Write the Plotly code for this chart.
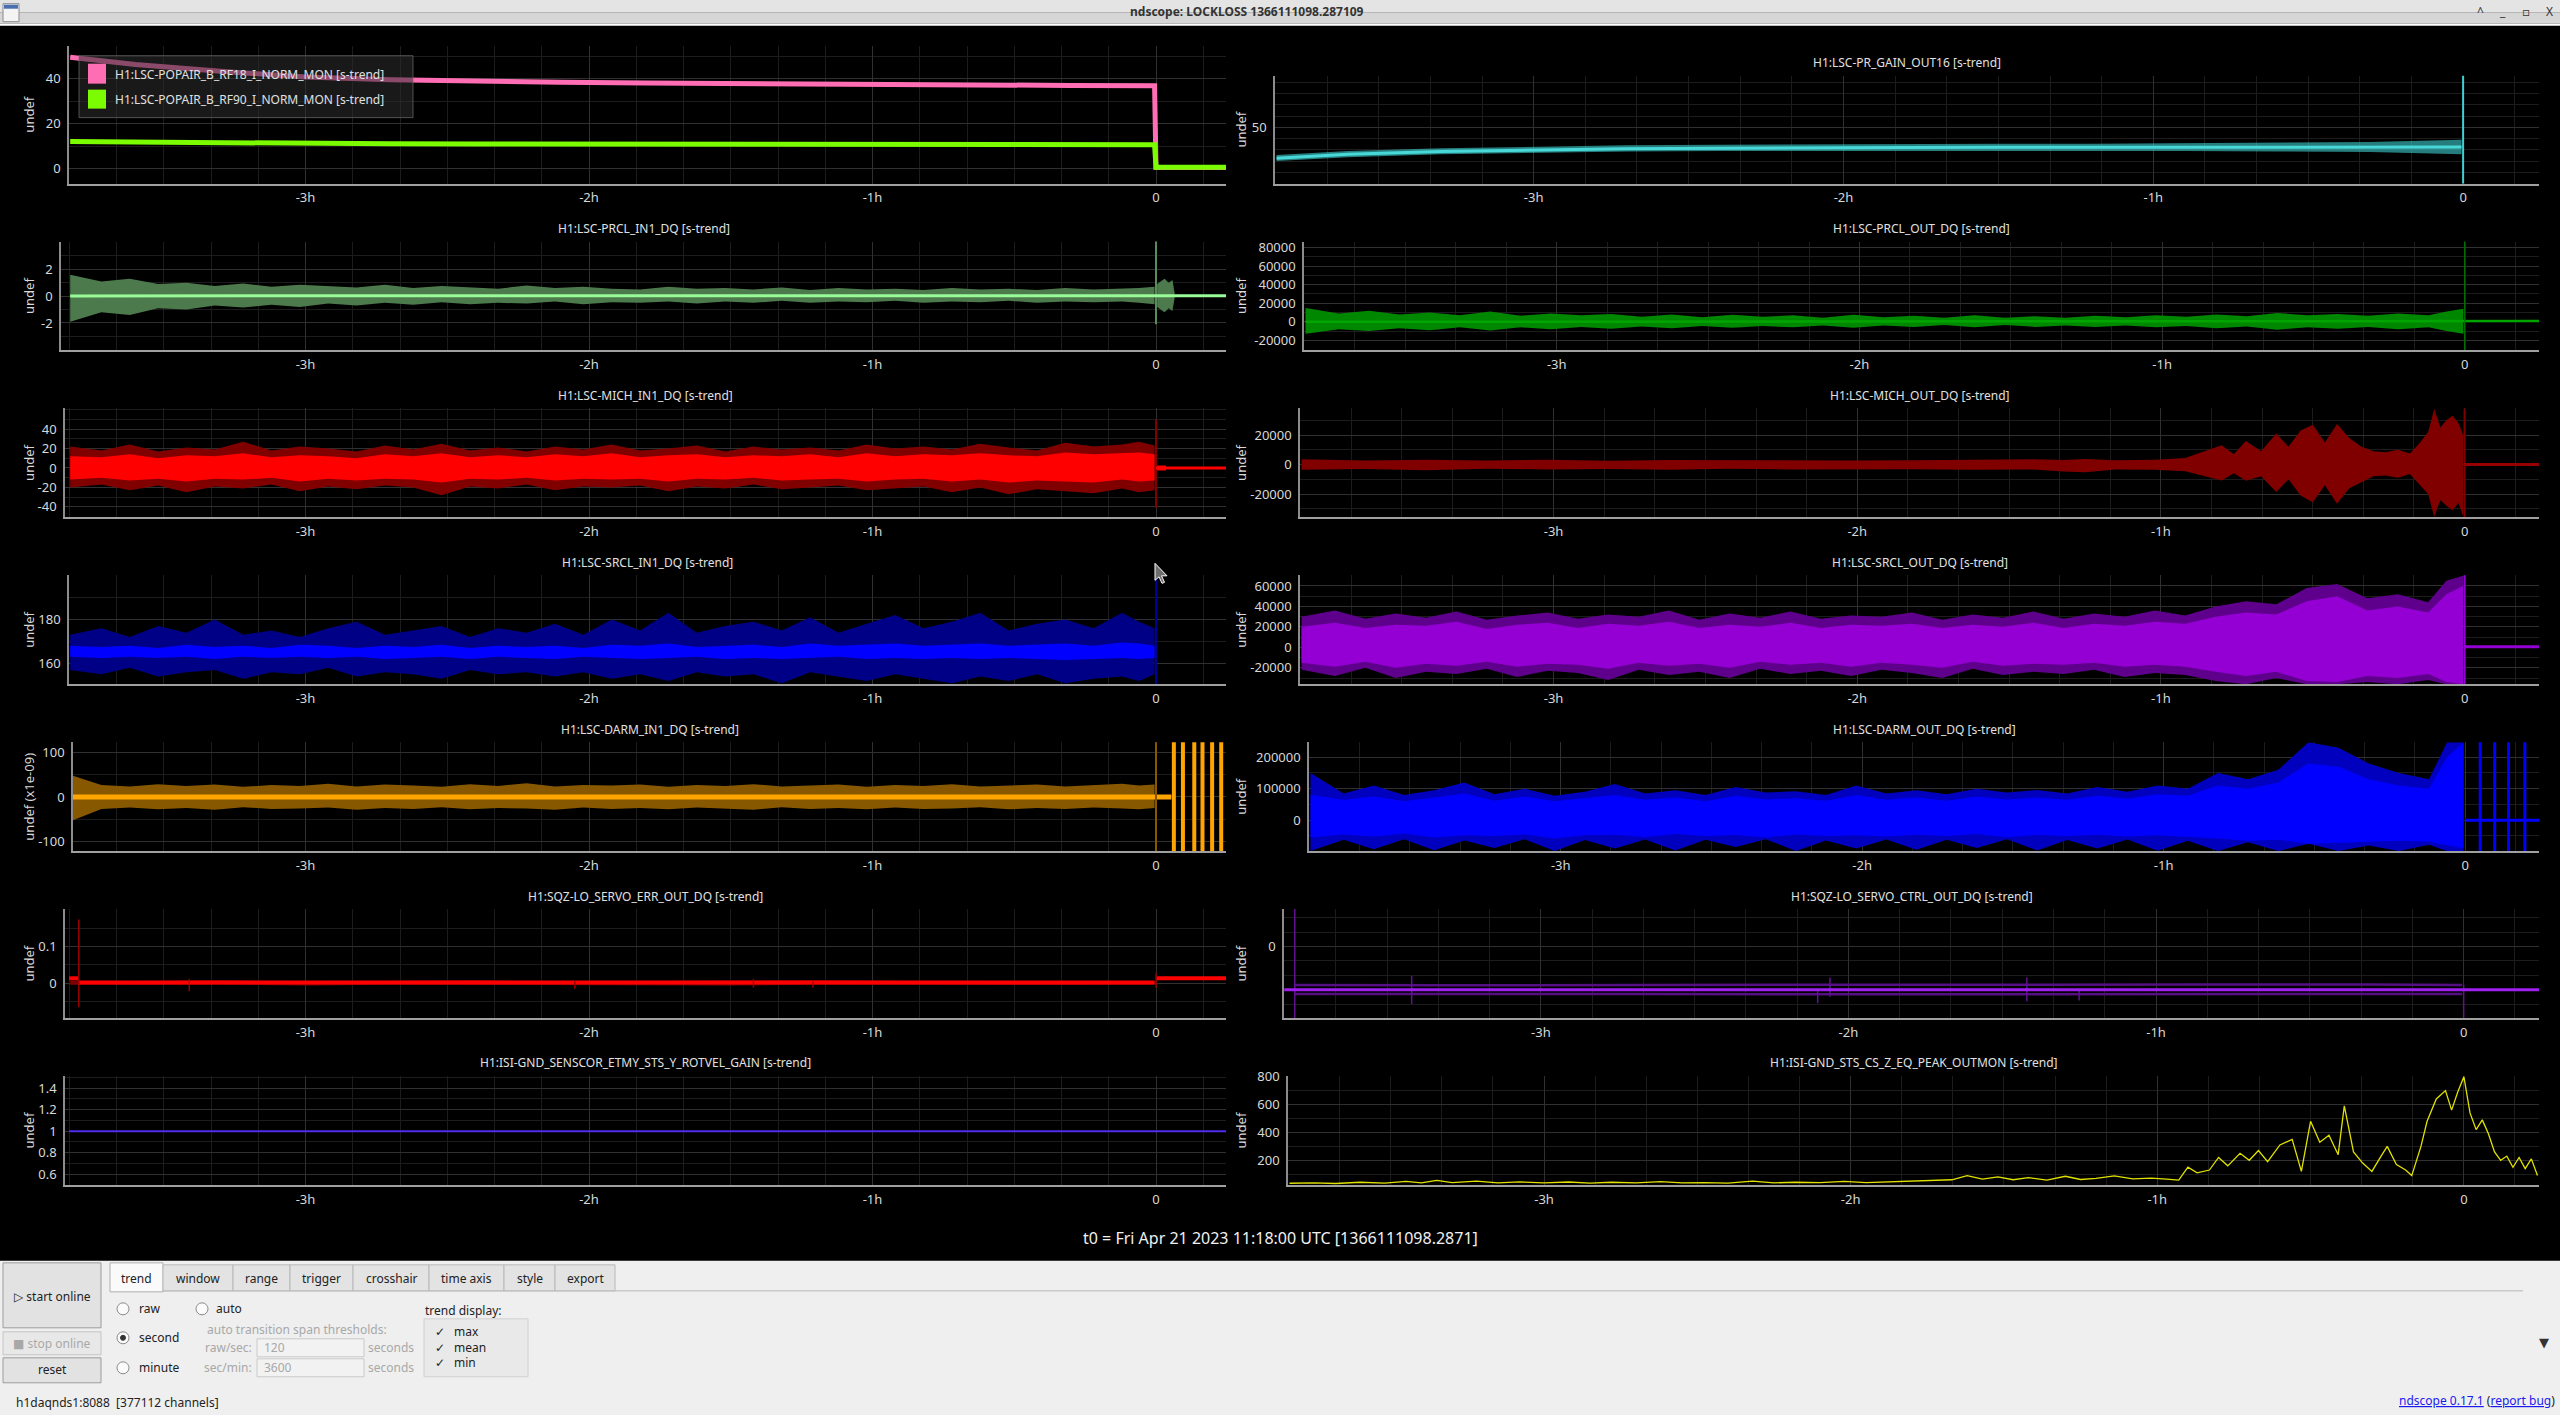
import plotly.graph_objects as go

W, H = 2560, 1415
FONT = "Noto Sans, Open Sans, DejaVu Sans, sans-serif"

# --- time grids, hours relative to t0 (the lockloss) ---
T = [-3.83, -3.72, -3.62, -3.52, -3.42, -3.32, -3.22, -3.12, -3.02, -2.92,
     -2.82, -2.72, -2.62, -2.52, -2.42, -2.32, -2.22, -2.12, -2.02, -1.92,
     -1.82, -1.72, -1.62, -1.52, -1.42, -1.32, -1.22, -1.12, -1.02, -0.92,
     -0.82, -0.72, -0.62, -0.52, -0.42, -0.32, -0.22, -0.12, -0.06, -0.005]
T_SLOW = [-3.83, -3.6, -3.3, -3.0, -2.7, -2.4, -2.1, -1.8, -1.5, -1.2, -0.9, -0.6, -0.3, -0.005]
POST_T = [0.0, 0.247]
HOUR_TICKS = [-3, -2, -1, 0]
HOUR_LABELS = ["-3h", "-2h", "-1h", "0"]

# --- H1:LSC-POPAIR_B_RF18 / RF90 ---
rf18 = [49.5, 46.3, 43.3, 40.8, 39.5, 38.8, 38.4, 38.1, 37.8, 37.6, 37.4, 37.2, 37.0, 36.9]
rf18_post = [0.5, 0.5]
rf90 = [12.0, 11.7, 11.4, 11.1, 11.0, 10.95, 10.9, 10.85, 10.8, 10.75, 10.7, 10.7, 10.65, 10.6]
rf90_post = [0.6, 0.6]

# --- H1:LSC-PR_GAIN_OUT16 ---
gain16_max = [45.1, 45.8, 46.3, 46.6, 46.8, 46.9, 47.0, 47.0, 47.1, 47.1, 47.2, 47.3, 47.4, 47.8]
gain16_min = [44.0, 44.7, 45.2, 45.5, 45.7, 45.8, 45.8, 45.9, 45.8, 45.8, 45.8, 45.7, 45.6, 45.2]
gain16_mean = [44.5, 45.2, 45.7, 46.0, 46.2, 46.3, 46.4, 46.4, 46.45, 46.45, 46.5, 46.5, 46.5, 46.5]

# --- H1:LSC-PRCL_IN1_DQ ---
prcl_in_max = [1.6, 1.1, 1.3, 0.9, 1.0, 0.75, 0.95, 0.7, 0.85, 0.75,
               0.65, 0.85, 0.6, 0.75, 0.65, 0.55, 0.8, 0.6, 0.7, 0.55,
               0.5, 0.7, 0.55, 0.6, 0.5, 0.65, 0.45, 0.6, 0.5, 0.55,
               0.45, 0.6, 0.5, 0.55, 0.45, 0.6, 0.5, 0.55, 0.6, 0.7]
prcl_in_min = [-1.9, -1.2, -1.4, -0.9, -1.0, -0.7, -0.85, -0.65, -0.8, -0.55,
               -0.7, -0.5, -0.65, -0.45, -0.6, -0.5, -0.55, -0.4, -0.6, -0.45,
               -0.5, -0.4, -0.55, -0.4, -0.5, -0.35, -0.5, -0.4, -0.45, -0.35,
               -0.5, -0.4, -0.45, -0.35, -0.5, -0.4, -0.45, -0.4, -0.5, -0.6]
prcl_in_burst_t = [0.004, 0.015, 0.03, 0.045, 0.058, 0.066]
prcl_in_burst_max = [0.9, 1.1, 1.3, 1.0, 1.2, 0.2]
prcl_in_burst_min = [-0.8, -1.0, -1.2, -0.9, -1.1, -0.1]
prcl_in_mean_t = [-3.83, 0.247]
prcl_in_mean = [0.02, 0.03]

# --- H1:LSC-PRCL_OUT_DQ ---
prcl_out_max = [15000, 9000, 12000, 8000, 10000, 7000, 11000, 6500, 9000, 7000,
                8500, 5500, 8000, 5000, 7500, 5500, 7000, 4500, 7500, 5000,
                6500, 4500, 7000, 4500, 6000, 4500, 6500, 5000, 7000, 5500,
                8000, 6000, 9500, 7000, 8500, 6500, 9000, 7000, 11000, 14000]
prcl_out_min = [-13000, -8000, -10000, -7000, -9000, -6000, -9500, -6000, -8000, -5500,
                -7500, -5000, -7000, -4500, -6500, -4500, -6000, -4000, -6500, -4000,
                -5500, -3500, -6000, -3500, -5500, -4000, -5500, -4000, -6000, -4500,
                -7000, -5000, -8500, -6000, -7500, -5500, -8000, -6000, -10000, -13000]
prcl_out_mean_t = [-3.83, -0.005, 0.003, 0.247]
prcl_out_mean = [0, 0, 800, 800]

# --- H1:LSC-MICH_IN1_DQ ---
mich_in_max = [22, 18, 24, 17, 21, 19, 27, 18, 22, 20,
               17, 23, 19, 25, 18, 21, 17, 22, 19, 24,
               18, 20, 23, 17, 22, 19, 21, 18, 24, 20,
               22, 19, 25, 21, 18, 26, 22, 24, 27, 23]
mich_in_min = [-20, -17, -23, -18, -25, -19, -21, -17, -24, -19,
               -22, -18, -20, -28, -19, -21, -17, -23, -19, -20,
               -18, -24, -19, -21, -17, -22, -20, -18, -23, -21,
               -19, -25, -20, -27, -22, -24, -26, -21, -25, -23]
mich_in_mean_hi = [12, 11, 14, 10, 13, 12, 15, 11, 13, 12,
                   10, 14, 12, 15, 11, 13, 11, 14, 12, 15,
                   11, 13, 14, 11, 13, 12, 14, 11, 15, 12,
                   14, 13, 15, 13, 12, 16, 14, 15, 16, 14]
mich_in_mean_lo = [-12, -10, -13, -11, -14, -11, -12, -10, -14, -11,
                   -13, -11, -12, -15, -11, -12, -10, -13, -11, -12,
                   -11, -14, -11, -12, -10, -13, -12, -11, -14, -12,
                   -11, -14, -12, -15, -13, -14, -15, -12, -14, -13]
mich_in_blk_t = [0.003, 0.035]
mich_in_blk_hi = [2.5, 2.5]
mich_in_blk_lo = [-2.5, -2.5]
mich_in_post = [0, 0]

# --- H1:LSC-MICH_OUT_DQ (own time list, finer through the pre-lockloss bursts) ---
mich_out_t = [-3.83, -3.62, -3.42, -3.22, -3.02, -2.82, -2.62, -2.42, -2.22, -2.02,
              -1.82, -1.62, -1.42, -1.32, -1.25, -1.15, -1.02, -0.92, -0.86, -0.8,
              -0.76, -0.72, -0.67, -0.62, -0.58, -0.54, -0.5, -0.46, -0.42, -0.38,
              -0.34, -0.3, -0.26, -0.22, -0.18, -0.15, -0.12, -0.1, -0.08, -0.06,
              -0.04, -0.02, -0.005]
mich_out_max = [3500, 2800, 3200, 2700, 3300, 2600, 3000, 2800, 3100, 2700,
                2900, 3200, 3500, 3000, 3800, 2900, 3200, 4500, 9000, 13000,
                7000, 16000, 9000, 21000, 12000, 23000, 27000, 15000, 27500, 18000,
                12000, 9000, 8300, 10000, 7500, 14000, 22000, 37600, 25000, 30000,
                33000, 28000, 20000]
mich_out_min = [-3500, -3000, -3800, -2800, -3300, -3000, -3600, -2900, -3300, -3100,
                -3200, -3500, -3300, -4800, -5200, -3400, -3600, -4500, -7500, -10800,
                -6000, -11000, -8000, -18700, -10000, -21000, -25500, -14000, -26600, -16000,
                -12000, -8000, -7400, -9000, -6500, -13000, -20000, -35600, -24000, -28000,
                -31000, -26000, -35000]
mich_out_post = [0, 0]

# --- H1:LSC-SRCL_IN1_DQ ---
srcl_in_max = [173, 176, 172, 177, 174, 180, 173, 175, 172, 176,
               179, 173, 175, 177, 172, 176, 174, 178, 173, 180,
               175, 183, 174, 177, 179, 175, 181, 174, 178, 182,
               176, 179, 183, 175, 178, 180, 176, 183, 179, 176]
srcl_in_min = [157, 155, 158, 154, 156, 157, 153, 156, 155, 158,
               154, 156, 155, 153, 157, 155, 156, 154, 156, 153,
               155, 152, 156, 154, 155, 151, 156, 154, 152, 155,
               153, 151, 154, 152, 155, 151, 153, 154, 152, 155]
srcl_in_mean_hi = [168, 167.5, 168, 167, 168.5, 167.5, 168, 167, 168.5, 168,
                   167, 168, 167.5, 168.5, 167, 168, 167.5, 168, 167, 168.5,
                   168, 169, 167.5, 168, 168.5, 167.5, 169, 168, 168.5, 169,
                   168, 168.5, 169, 168, 168.5, 169, 168, 169.5, 169, 168]
srcl_in_mean_lo = [163, 162.5, 163, 162.5, 163, 162, 163, 162.5, 163, 162.5,
                   163, 162, 162.5, 163, 162, 163, 162.5, 162, 163, 162.5,
                   162, 162.5, 163, 162, 162.5, 162, 162.5, 163, 162, 162.5,
                   162, 162.5, 162, 162.5, 162, 161.5, 162, 162.5, 162, 162.5]

# --- H1:LSC-SRCL_OUT_DQ ---
srcl_out_max = [30000, 36000, 28000, 33000, 29000, 35000, 27000, 31000, 34000, 28000,
                32000, 30000, 36000, 27000, 33000, 29000, 35000, 28000, 31000, 30000,
                34000, 27000, 32000, 29000, 35000, 28000, 33000, 30000, 36000, 31000,
                40000, 45000, 42000, 58000, 62000, 48000, 52000, 44000, 65000, 70000]
srcl_out_min = [-22000, -28000, -20000, -30000, -24000, -26000, -21000, -29000, -23000, -25000,
                -32000, -22000, -27000, -24000, -30000, -21000, -26000, -23000, -28000, -22000,
                -25000, -30000, -21000, -27000, -24000, -26000, -22000, -29000, -25000, -27000,
                -33000, -36000, -30000, -36000, -36000, -34000, -36000, -32000, -36000, -36000]
srcl_out_mean_hi = [20000, 24000, 19000, 22000, 21000, 25000, 18000, 22000, 24000, 19000,
                    23000, 21000, 25000, 19000, 22000, 20000, 24000, 19000, 22000, 21000,
                    23000, 19000, 22000, 20000, 24000, 19000, 23000, 21000, 25000, 23000,
                    30000, 34000, 32000, 45000, 50000, 36000, 40000, 34000, 52000, 60000]
srcl_out_mean_lo = [-15000, -19000, -14000, -20000, -16000, -18000, -14000, -19000, -16000, -17000,
                    -21000, -15000, -18000, -16000, -20000, -14000, -17000, -15000, -19000, -15000,
                    -17000, -20000, -14000, -18000, -16000, -17000, -15000, -19000, -17000, -19000,
                    -24000, -28000, -24000, -33000, -34000, -28000, -30000, -26000, -34000, -36000]
srcl_out_post = [500, 500]

# --- H1:LSC-DARM_IN1_DQ (x1e-09) ---
darm_in_max = [50, 27, 24, 29, 25, 28, 23, 27, 25, 30,
               24, 28, 26, 23, 29, 25, 31, 24, 27, 26,
               28, 23, 27, 25, 29, 24, 26, 28, 23, 27,
               25, 29, 24, 26, 28, 24, 27, 30, 26, 28]
darm_in_min = [-55, -27, -24, -28, -25, -29, -23, -27, -26, -24,
               -29, -25, -27, -23, -28, -25, -26, -29, -24, -27,
               -25, -28, -24, -26, -29, -23, -27, -25, -28, -24,
               -27, -26, -23, -28, -25, -27, -24, -26, -28, -25]
darm_in_mean_t = [-3.83, 0.054]
darm_in_mean = [0, 0]
darm_in_gap_t = [0.0, 0.063, 0.095, 0.135, 0.164, 0.198, 0.230]
darm_in_gap_lo = [-200, -200, -200, -200, -200, -200, -200]
darm_in_gap_hi = [200, 200, 200, 200, 200, 200, 200]

# --- H1:LSC-DARM_OUT_DQ ---
darm_out_max = [150000, 85000, 110000, 80000, 95000, 120000, 82000, 100000, 78000, 90000,
                115000, 85000, 95000, 80000, 105000, 88000, 92000, 80000, 110000, 85000,
                95000, 82000, 100000, 88000, 96000, 85000, 105000, 90000, 110000, 100000,
                150000, 130000, 160000, 247000, 230000, 180000, 150000, 130000, 247000, 247000]
darm_out_min = [-98000, -62000, -92000, -60000, -95000, -64000, -88000, -60000, -98000, -63000,
                -90000, -61000, -96000, -62000, -85000, -60000, -98000, -64000, -90000, -61000,
                -94000, -62000, -88000, -60000, -96000, -63000, -90000, -61000, -97000, -65000,
                -98000, -70000, -98000, -75000, -98000, -80000, -98000, -78000, -98000, -98000]
darm_out_mean_hi = [80000, 65000, 75000, 60000, 72000, 85000, 62000, 75000, 60000, 70000,
                    80000, 65000, 72000, 60000, 78000, 66000, 70000, 62000, 80000, 65000,
                    72000, 62000, 75000, 66000, 72000, 65000, 78000, 68000, 82000, 78000,
                    110000, 100000, 120000, 180000, 170000, 130000, 110000, 100000, 200000, 247000]
darm_out_mean_lo = [-55000, -45000, -52000, -42000, -55000, -48000, -50000, -45000, -58000, -48000,
                    -46000, -53000, -44000, -50000, -47000, -55000, -45000, -50000, -48000, -52000,
                    -46000, -50000, -44000, -54000, -47000, -50000, -46000, -52000, -48000, -52000,
                    -58000, -65000, -62000, -75000, -72000, -70000, -65000, -68000, -80000, -90000]
darm_out_post = [0, 0]
darm_out_gap_t = [0.05, 0.098, 0.144, 0.198]
darm_out_gap_lo = [-300000, -300000, -300000, -300000]
darm_out_gap_hi = [300000, 300000, 300000, 300000]

# --- H1:SQZ-LO_SERVO_ERR_OUT_DQ ---
err_max = [0.007, 0.006, 0.008, 0.006, 0.007, 0.008, 0.006, 0.007, 0.006, 0.008, 0.007, 0.006, 0.007, 0.006]
err_min = [-0.004, -0.005, -0.004, -0.006, -0.004, -0.005, -0.004, -0.005, -0.006, -0.004, -0.005, -0.004, -0.005, -0.004]
err_mean_t = [-3.80, -0.005]
err_mean = [0.002, 0.002]
err_pre_t = [-3.834, -3.80]
err_pre = [0.0136, 0.0136]
err_post = [0.0136, 0.0136]
err_spike_t = [-3.80, -3.41, -2.05, -1.42, -1.21, 0.0]
err_spike_lo = [-0.065, -0.022, -0.015, -0.012, -0.012, -0.012]
err_spike_hi = [0.174, 0.012, 0.008, 0.012, 0.004, 0.027]

# --- H1:SQZ-LO_SERVO_CTRL_OUT_DQ ---
ctrl_max_t = [-3.80, -3.3, -2.7, -2.1, -1.5, -0.9, -0.3, -0.005]
ctrl_max = [-0.0535, -0.0540, -0.0535, -0.0530, -0.0535, -0.0530, -0.0530, -0.0535]
ctrl_min = [-0.0661, -0.0658, -0.0662, -0.0665, -0.0661, -0.0658, -0.0655, -0.0660]
ctrl_mean_t = [-3.834, 0.247]
ctrl_mean = [-0.060, -0.060]
ctrl_spike_t = [-3.80, -3.42, -2.1, -2.06, -1.42, -1.25, 0.0]
ctrl_spike_lo = [-0.0995, -0.080, -0.079, -0.070, -0.076, -0.075, -0.0995]
ctrl_spike_hi = [0.052, -0.041, -0.062, -0.043, -0.043, -0.060, -0.053]

# --- H1:ISI-GND_SENSCOR_ETMY_STS_Y_ROTVEL_GAIN ---
rotvel_t = [-3.834, 0.247]
rotvel = [1.0, 1.0]

# --- H1:ISI-GND_STS_CS_Z_EQ_PEAK_OUTMON ---
eq_t = [-3.83, -3.75, -3.68, -3.6, -3.52, -3.45, -3.4, -3.35, -3.3, -3.22,
        -3.15, -3.08, -3.0, -2.92, -2.85, -2.78, -2.7, -2.62, -2.55, -2.48,
        -2.4, -2.32, -2.25, -2.18, -2.1, -2.02, -1.95, -1.88, -1.8, -1.73,
        -1.67, -1.62, -1.57, -1.52, -1.47, -1.42, -1.36, -1.3, -1.25, -1.2,
        -1.14, -1.08, -1.02, -0.97, -0.93, -0.9, -0.87, -0.83, -0.8, -0.77,
        -0.73, -0.7, -0.67, -0.64, -0.6, -0.56, -0.53, -0.5, -0.47, -0.44,
        -0.41, -0.39, -0.36, -0.33, -0.3, -0.27, -0.25, -0.22, -0.19, -0.17,
        -0.14, -0.12, -0.09, -0.06, -0.04, -0.02, 0.0, 0.02, 0.04, 0.06,
        0.08, 0.1, 0.12, 0.14, 0.16, 0.18, 0.2, 0.22, 0.24]
eq_v = [35, 38, 33, 42, 36, 48, 38, 55, 40, 50,
        37, 45, 38, 44, 36, 42, 37, 47, 38, 40,
        36, 50, 38, 42, 40, 48, 39, 44, 46, 52,
        60, 90, 65, 80, 60, 75, 58, 85, 62, 70,
        88, 66, 72, 64, 58, 150, 110, 130, 220, 160,
        250, 200, 270, 190, 310, 350, 120, 480, 330, 380,
        240, 590, 260, 180, 120, 230, 300, 170, 130, 90,
        300, 480, 640, 700, 560, 690, 800, 540, 420, 490,
        390, 260, 200, 230, 150, 220, 140, 210, 90]

# panel layout, pixel geometry of each plot box (col 0 = left, 1 = right)
PANELS = [
    dict(col=0, x0=69, top=45, bot=183, title=None, yr=[-6.7, 54.7], yt=[0, 20, 40], ym=10),
    dict(col=1, x0=1275, top=75, bot=183, title="H1:LSC-PR_GAIN_OUT16 [s-trend]", yr=[40, 59.2], yt=[50], ym=2),
    dict(col=0, x0=61, top=241, bot=350, title="H1:LSC-PRCL_IN1_DQ [s-trend]", yr=[-4.05, 4.07], yt=[-2, 0, 2], ym=1),
    dict(col=1, x0=1304, top=241, bot=350, title="H1:LSC-PRCL_OUT_DQ [s-trend]", yr=[-30900, 86500],
         yt=[-20000, 0, 20000, 40000, 60000, 80000], ym=10000),
    dict(col=0, x0=65, top=408, bot=517, title="H1:LSC-MICH_IN1_DQ [s-trend]", yr=[-50.8, 61.2], yt=[-40, -20, 0, 20, 40], ym=10),
    dict(col=1, x0=1300, top=408, bot=517, title="H1:LSC-MICH_OUT_DQ [s-trend]", yr=[-35800, 38000], yt=[-20000, 0, 20000], ym=10000),
    dict(col=0, x0=69, top=575, bot=684, title="H1:LSC-SRCL_IN1_DQ [s-trend]", yr=[150.5, 200.1], yt=[160, 180], ym=10),
    dict(col=1, x0=1300, top=575, bot=684, title="H1:LSC-SRCL_OUT_DQ [s-trend]", yr=[-36100, 70400],
         yt=[-20000, 0, 20000, 40000, 60000], ym=10000),
    dict(col=0, x0=73, top=742, bot=851, title="H1:LSC-DARM_IN1_DQ [s-trend]", yr=[-122.6, 124], yt=[-100, 0, 100], ym=50,
         ylabel="undef (x1e-09)"),
    dict(col=1, x0=1309, top=742, bot=851, title="H1:LSC-DARM_OUT_DQ [s-trend]", yr=[-98100, 247500], yt=[0, 100000, 200000], ym=50000),
    dict(col=0, x0=65, top=909, bot=1018, title="H1:SQZ-LO_SERVO_ERR_OUT_DQ [s-trend]", yr=[-0.0946, 0.202], yt=[0, 0.1], ym=0.05),
    dict(col=1, x0=1284, top=909, bot=1018, title="H1:SQZ-LO_SERVO_CTRL_OUT_DQ [s-trend]", yr=[-0.0995, 0.052], yt=[0], ym=0.02),
    dict(col=0, x0=65, top=1076, bot=1185, title="H1:ISI-GND_SENSCOR_ETMY_STS_Y_ROTVEL_GAIN [s-trend]", yr=[0.5, 1.514],
         yt=[0.6, 0.8, 1, 1.2, 1.4], ym=0.1),
    dict(col=1, x0=1288, top=1076, bot=1185, title="H1:ISI-GND_STS_CS_Z_EQ_PEAK_OUTMON [s-trend]", yr=[23, 805],
         yt=[200, 400, 600, 800], ym=100),
]


# the page comes out shifted ~8 px down and a touch squeezed vertically, so pixel
# positions are pre-corrected before they become paper fractions
def px(x):
    return x / W


def py(y):
    return 1 - ((y - 8.3) / 0.9943) / H


fig = go.Figure()


def axes(n):
    s = "" if n == 1 else str(n)
    return dict(xaxis="x" + s, yaxis="y" + s)


def band(n, t, lo, hi, color):
    fig.add_trace(go.Scatter(x=t, y=hi, mode="lines", line=dict(width=0, color=color), hoverinfo="skip", **axes(n)))
    fig.add_trace(go.Scatter(x=t, y=lo, mode="lines", line=dict(width=0, color=color), fill="tonexty",
                             fillcolor=color, hoverinfo="skip", **axes(n)))


def line(n, t, v, color, width=2):
    fig.add_trace(go.Scatter(x=t, y=v, mode="lines", line=dict(width=width, color=color), hoverinfo="skip", **axes(n)))


def vlines(n, t, lo, hi, color, width=1.5):
    xs, ys = [], []
    for a, b, c in zip(t, lo, hi):
        xs += [a, a, None]
        ys += [b, c, None]
    fig.add_trace(go.Scatter(x=xs, y=ys, mode="lines", line=dict(width=width, color=color), hoverinfo="skip", **axes(n)))


# 1 POPAIR
line(1, T_SLOW + POST_T, rf18 + rf18_post, "#ff6eb4", 5)
line(1, T_SLOW + POST_T, rf90 + rf90_post, "#7cfc00", 5)
# 2 PR gain
band(2, T_SLOW, gain16_min, gain16_max, "rgba(64,208,208,0.6)")
line(2, T_SLOW, gain16_mean, "#48d8d8", 3)
vlines(2, [0.0], [39.5], [60], "#40d0d0", 2)
# 3 PRCL in
band(3, T, prcl_in_min, prcl_in_max, "rgb(76,122,76)")
band(3, prcl_in_burst_t, prcl_in_burst_min, prcl_in_burst_max, "rgb(76,122,76)")
vlines(3, [0.0], [-2.1], [4.2], "rgb(90,140,90)", 2)
line(3, prcl_in_mean_t, prcl_in_mean, "#98fb98", 3)
# 4 PRCL out
band(4, T, prcl_out_min, prcl_out_max, "rgb(0,135,0)")
line(4, prcl_out_mean_t, prcl_out_mean, "rgb(0,165,0)", 2.5)
vlines(4, [0.0], [-32000], [90000], "rgb(0,115,0)", 1.5)
# 5 MICH in
band(5, T, mich_in_min, mich_in_max, "rgb(128,0,0)")
band(5, T, mich_in_mean_lo, mich_in_mean_hi, "rgb(255,0,0)")
band(5, mich_in_blk_t, mich_in_blk_lo, mich_in_blk_hi, "rgb(255,0,0)")
vlines(5, [0.0], [-41], [50], "rgb(128,0,0)", 2)
line(5, POST_T, mich_in_post, "rgb(255,0,0)", 3)
# 6 MICH out
band(6, mich_out_t, mich_out_min, mich_out_max, "rgb(128,0,0)")
vlines(6, [0.0], [-36000], [38000], "rgb(128,0,0)", 2)
line(6, POST_T, mich_out_post, "rgb(150,0,0)", 3)
# 7 SRCL in
band(7, T, srcl_in_min, srcl_in_max, "rgb(0,0,135)")
band(7, T, srcl_in_mean_lo, srcl_in_mean_hi, "rgb(0,0,255)")
vlines(7, [0.0], [150], [201], "rgb(0,0,150)", 2)
# 8 SRCL out
band(8, T, srcl_out_min, srcl_out_max, "rgb(95,0,140)")
band(8, T, srcl_out_mean_lo, srcl_out_mean_hi, "rgb(148,0,211)")
vlines(8, [0.0], [-37000], [71000], "rgb(148,0,211)", 2)
line(8, POST_T, srcl_out_post, "rgb(148,0,211)", 3)
# 9 DARM in
band(9, T, darm_in_min, darm_in_max, "rgb(135,88,0)")
line(9, darm_in_mean_t, darm_in_mean, "rgb(255,165,0)", 5)
vlines(9, darm_in_gap_t[:1], darm_in_gap_lo[:1], darm_in_gap_hi[:1], "rgb(135,88,0)", 2)
vlines(9, darm_in_gap_t[1:], darm_in_gap_lo[1:], darm_in_gap_hi[1:], "rgb(255,165,0)", 4)
# 10 DARM out
band(10, T, darm_out_min, darm_out_max, "rgb(0,0,190)")
band(10, T, darm_out_mean_lo, darm_out_mean_hi, "rgb(0,0,255)")
line(10, POST_T, darm_out_post, "rgb(0,0,255)", 3)
vlines(10, darm_out_gap_t, darm_out_gap_lo, darm_out_gap_hi, "rgb(0,0,255)", 3)
# 11 SQZ err
band(11, T_SLOW, err_min, err_max, "rgb(128,0,0)")
line(11, err_mean_t, err_mean, "rgb(255,0,0)", 4)
line(11, err_pre_t, err_pre, "rgb(255,0,0)", 4)
line(11, POST_T, err_post, "rgb(255,0,0)", 4)
vlines(11, err_spike_t, err_spike_lo, err_spike_hi, "rgb(150,0,0)", 1.5)
# 12 SQZ ctrl: max and min drawn as separate dark lines around the bright mean
line(12, ctrl_max_t, ctrl_max, "rgb(85,15,130)", 2.5)
line(12, ctrl_max_t, ctrl_min, "rgb(85,15,130)", 2.5)
vlines(12, ctrl_spike_t, ctrl_spike_lo, ctrl_spike_hi, "rgb(95,18,145)", 1.5)
line(12, ctrl_mean_t, ctrl_mean, "rgb(160,32,240)", 3)
# 13 rotvel gain
line(13, rotvel_t, rotvel, "rgb(80,45,235)", 2)
# 14 EQ peak
line(14, eq_t, eq_v, "rgb(225,225,0)", 1.3)

layout = dict(width=W, height=H, margin=dict(l=0, r=0, t=0, b=0), paper_bgcolor="black",
              plot_bgcolor="black", showlegend=False, hovermode=False,
              font=dict(family=FONT, color="#d8d8d8", size=13))

ann = []
shapes = []


def A(x, y, text, size=12, color="#222222", anchor="center", angle=0):
    return dict(x=px(x), y=py(y), xref="paper", yref="paper", text=text, showarrow=False,
                xanchor=anchor, yanchor="middle", textangle=angle,
                font=dict(size=size, color=color, family=FONT))


def R(x0, y0, x1, y1, fill, edge="rgba(0,0,0,0)", lw=1):
    return dict(type="rect", xref="paper", yref="paper", x0=px(x0), x1=px(x1), y0=py(y0), y1=py(y1),
                fillcolor=fill, line=dict(color=edge, width=lw), layer="above")


def C(cx, cy, r, fill, edge):
    return dict(type="circle", xref="paper", yref="paper", x0=px(cx - r), x1=px(cx + r),
                y0=py(cy - r), y1=py(cy + r), fillcolor=fill, line=dict(color=edge, width=1),
                layer="above")


def Ln(x0, y0, x1, y1, color, w=1):
    return dict(type="line", xref="paper", yref="paper", x0=px(x0), x1=px(x1), y0=py(y0), y1=py(y1),
                line=dict(color=color, width=w), layer="above")


for i, p in enumerate(PANELS):
    n = i + 1
    s = "" if n == 1 else str(n)
    x1 = 1226 if p["col"] == 0 else 2539
    if p["col"] == 0:
        xr = [(p["x0"] - 1156) / 283.5, (1226 - 1156) / 283.5]
    else:
        xr = [-3.835, 0.245]
    layout["xaxis" + s] = dict(
        domain=[px(p["x0"]), px(x1)], range=xr, anchor="y" + s, fixedrange=True,
        tickmode="array", tickvals=HOUR_TICKS, ticktext=HOUR_LABELS,
        showline=True, linecolor="#a0a0a0", linewidth=2, zeroline=False,
        showgrid=True, gridcolor="#303030", gridwidth=1,
        ticks="outside", ticklen=1, tickcolor="rgba(0,0,0,0)",
        tickfont=dict(size=13, color="#d8d8d8", family=FONT),
        minor=dict(tickmode="linear", tick0=0, dtick=1 / 6, showgrid=True, gridcolor="#1c1c1c", ticks=""),
    )
    layout["yaxis" + s] = dict(
        domain=[py(p["bot"]), py(p["top"])], range=p["yr"], anchor="x" + s, fixedrange=True,
        tickmode="array", tickvals=p["yt"], ticktext=[f"{v:g}" for v in p["yt"]],
        showline=True, linecolor="#8c8c8c", linewidth=1.5, zeroline=False,
        showgrid=True, gridcolor="#303030", gridwidth=1,
        ticks="outside", ticklen=4, tickcolor="rgba(0,0,0,0)",
        tickfont=dict(size=13, color="#d8d8d8", family=FONT),
        minor=dict(tickmode="linear", tick0=0, dtick=p["ym"], showgrid=True, gridcolor="#1c1c1c", ticks=""),
    )
    if p["title"]:
        ann.append(A((p["x0"] + x1) / 2, p["top"] - 13, p["title"], 12, "#e0e0e0"))
    ylab_x = 29 if p["col"] == 0 else 1241
    ann.append(A(ylab_x, (p["top"] + p["bot"]) / 2, p.get("ylabel", "undef"), 13, "#d8d8d8", angle=-90))

# legend of the first panel
shapes.append(R(79, 55, 413, 117, "rgba(45,45,45,0.55)", "rgba(110,110,110,0.7)"))
shapes.append(R(88, 63, 106, 83, "#ff6eb4"))
shapes.append(R(88, 89, 106, 108, "#7cfc00"))
ann.append(A(113, 74, "H1:LSC-POPAIR_B_RF18_I_NORM_MON [s-trend]", 12, "#e0e0e0", "left"))
ann.append(A(113, 99, "H1:LSC-POPAIR_B_RF90_I_NORM_MON [s-trend]", 12, "#e0e0e0", "left"))

# mouse pointer
pts = [(0, 0), (0, 17), (4, 13.5), (7, 20), (9.5, 19), (6.5, 12.5), (12, 12.5)]
path = "M " + " L ".join(f"{px(1155 + a)},{py(563 + b)}" for a, b in pts) + " Z"
shapes.append(dict(type="path", xref="paper", yref="paper", path=path, fillcolor="#6e6e6e",
                   line=dict(color="white", width=1), layer="above"))

# t0 line
ann.append(A(1280, 1238, "t0 = Fri Apr 21 2023 11:18:00 UTC [1366111098.2871]", 16, "#f0f0f0"))

# window title bar
shapes.append(R(0, -10, 2560, 12, "#e4e4e4"))
shapes.append(R(0, 12, 2560, 23, "#d6d6d6"))
shapes.append(R(0, 23, 2560, 25, "#ffffff"))
shapes.append(R(3, 3, 19, 21, "#f4f4f4", "#8a8a8a"))
shapes.append(R(4, 4, 18, 8, "#4a6fb0"))
ann.append(A(1247, 11, "<b>ndscope: LOCKLOSS 1366111098.287109</b>", 12, "#333333"))
for xx, ch in [(2480, "^"), (2502, "_"), (2526, "▫"), (2549, "X")]:
    ann.append(A(xx, 11, ch, 12, "#333333"))

# control panel
shapes.append(R(0, 1261, 2560, 1430, "#efefef"))
shapes.append(R(3, 1263, 101, 1328, "#e2e2e2", "#9c9c9c"))
shapes.append(R(3, 1332, 101, 1355, "#e8e8e8", "#c4c4c4"))
shapes.append(R(3, 1358, 101, 1383, "#e2e2e2", "#9c9c9c"))
ann.append(A(52, 1297, "▷ start online", 12, "#222222"))
ann.append(A(52, 1344, "■ stop online", 12, "#a8a8a8"))
ann.append(A(52, 1370, "reset", 12, "#222222"))

tabs = [("trend", 110, 163), ("window", 163, 233), ("range", 233, 290), ("trigger", 290, 353),
        ("crosshair", 353, 429), ("time axis", 429, 504), ("style", 504, 555), ("export", 555, 615)]
shapes.append(Ln(110, 1291, 2523, 1291, "#b8b8b8"))
for k, (name, a, b) in enumerate(tabs):
    if k == 0:
        shapes.append(R(a, 1263, b, 1292, "#fafafa", "#b0b0b0"))
    else:
        shapes.append(R(a, 1265, b, 1291, "#e3e3e3", "#b8b8b8"))
    ann.append(A((a + b) / 2, 1279, name, 12, "#222222"))

shapes.append(C(123, 1309, 6, "#fbfbfb", "#8a8a8a"))
shapes.append(C(123, 1338, 6, "#fbfbfb", "#8a8a8a"))
shapes.append(C(123, 1338, 2.5, "#333333", "#333333"))
shapes.append(C(123, 1368, 6, "#fbfbfb", "#8a8a8a"))
shapes.append(C(202, 1309, 6, "#fbfbfb", "#8a8a8a"))
ann.append(A(137, 1309, "raw", 12, "#222222", "left"))
ann.append(A(137, 1338, "second", 12, "#222222", "left"))
ann.append(A(137, 1368, "minute", 12, "#222222", "left"))
ann.append(A(214, 1309, "auto", 12, "#222222", "left"))
ann.append(A(205, 1330, "auto transition span thresholds:", 12, "#a8a8a8", "left"))
ann.append(A(254, 1348, "raw/sec:", 12, "#a8a8a8", "right"))
ann.append(A(254, 1368, "sec/min:", 12, "#a8a8a8", "right"))
shapes.append(R(257, 1339, 364, 1357, "#f2f2f2", "#cacaca"))
shapes.append(R(257, 1359, 364, 1377, "#f2f2f2", "#cacaca"))
ann.append(A(262, 1348, "120", 12, "#a8a8a8", "left"))
ann.append(A(262, 1368, "3600", 12, "#a8a8a8", "left"))
ann.append(A(366, 1348, "seconds", 12, "#a8a8a8", "left"))
ann.append(A(366, 1368, "seconds", 12, "#a8a8a8", "left"))

ann.append(A(423, 1311, "trend display:", 12, "#222222", "left"))
shapes.append(R(424, 1319, 528, 1377, "#e9e9e9", "#d0d0d0"))
for yy, name in [(1332, "max"), (1348, "mean"), (1363, "min")]:
    ann.append(A(440, yy, "✓", 12, "#222222"))
    ann.append(A(452, yy, name, 12, "#222222", "left"))

ann.append(A(14, 1403, "h1daqnds1:8088  [377112 channels]", 12, "#222222", "left"))
ann.append(A(2557, 1401, '<span style="color:#1a1aee"><u>ndscope 0.17.1</u></span> '
                         '(<span style="color:#1a1aee"><u>report bug</u></span>)', 12, "#222222", "right"))
ann.append(A(2544, 1342, "▼", 13, "#333333"))

layout["annotations"] = ann
layout["shapes"] = shapes
fig.update_layout(**layout)

fig.write_html("out.html", config={"displayModeBar": False},
               post_script="document.body.style.margin='0';document.body.style.overflow='hidden';"
                           "document.body.style.background='#e4e4e4';")
